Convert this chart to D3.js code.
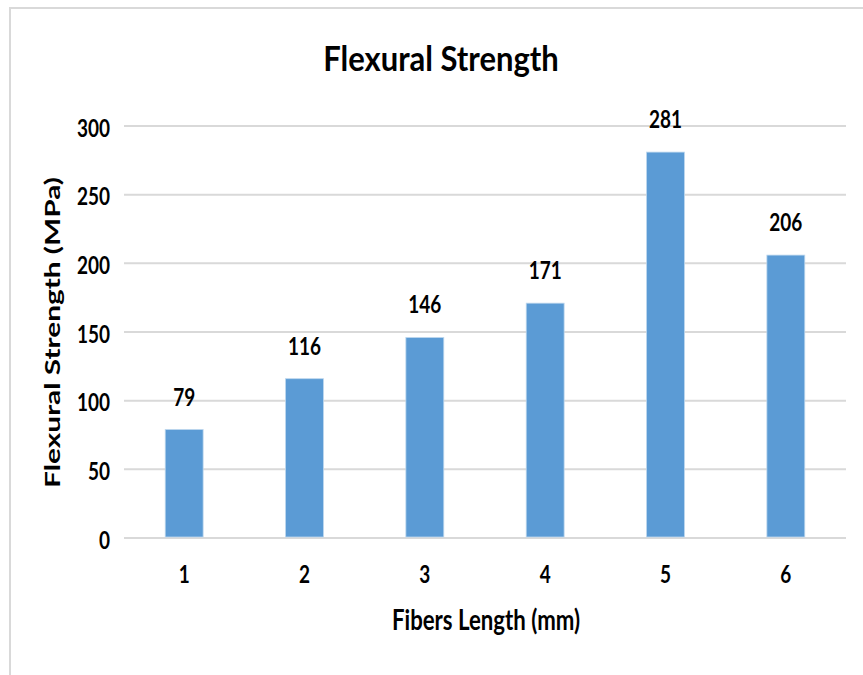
<!DOCTYPE html>
<html><head><meta charset="utf-8">
<script src="https://cdn.jsdelivr.net/npm/d3@7"></script>
<style>body{margin:0;background:#fff}svg{display:block}text{font-family:Lato,"Open Sans",sans-serif;font-weight:bold;fill:#000}</style>
</head><body>
<script>
const categories = ["1","2","3","4","5","6"];
const values = [79,116,146,171,281,206];
const yTicks = [0,50,100,150,200,250,300];
const title = "Flexural Strength";
const xTitle = "Fibers Length (mm)";
const yTitle = "Flexural Strength (MPa)";

const W=863,H=675;
const svg=d3.select("body").append("svg").attr("width",W).attr("height",H);
svg.append("rect").attr("x",10).attr("y",8).attr("width",900).attr("height",700)
  .attr("fill","none").attr("stroke","#d9d9d9").attr("stroke-width",2);

const pL=124,pR=846,pT=126,pB=538;
const x=d3.scaleBand().domain(categories).range([pL,pR]).paddingInner(0.685).paddingOuter(0.3425);
const y=d3.scaleLinear().domain([0,300]).range([pB,pT]);
const K=1.26; // vertical stretch of text, as in the reference

// gridlines
svg.append("g").selectAll("line").data(yTicks).join("line")
  .attr("x1",pL).attr("x2",pR).attr("y1",d=>y(d)).attr("y2",d=>y(d))
  .attr("stroke","#d9d9d9").attr("stroke-width",2);

// y axis labels
const ya=svg.append("g").attr("transform",`translate(${pL},0)`)
  .call(d3.axisLeft(y).tickValues(yTicks).tickSize(0).tickPadding(14));
ya.select(".domain").remove();
ya.selectAll("text").attr("font-size",19).attr("font-family","Lato").attr("font-weight","bold").attr("fill","#000")
  .attr("dy",null).attr("transform",`translate(0,10) scale(1,${K})`);

// x axis labels
const xa=svg.append("g").attr("transform",`translate(0,${pB})`)
  .call(d3.axisBottom(x).tickSize(0));
xa.select(".domain").remove();
xa.selectAll("text").attr("font-size",19).attr("font-family","Lato").attr("font-weight","bold").attr("fill","#000")
  .attr("y",null).attr("dy",null).attr("transform",`translate(0,45) scale(1,${K})`);

// bars
svg.append("g").selectAll("rect").data(values).join("rect")
  .attr("x",(d,i)=>x(categories[i])).attr("width",x.bandwidth())
  .attr("y",d=>y(d)).attr("height",d=>y(0)-y(d)-1)
  .attr("fill","#5b9bd5").attr("stroke","#bdd7ee").attr("stroke-width",0.8);

// value labels
svg.append("g").selectAll("text").data(values).join("text")
  .attr("transform",(d,i)=>`translate(${x(categories[i])+x.bandwidth()/2},${y(d)-24}) scale(1,${K})`)
  .attr("text-anchor","middle").attr("font-size",19).text(d=>d);

svg.append("text").attr("transform","translate(441,71) scale(1,1.12)").attr("text-anchor","middle").attr("font-size",31).text(title);
svg.append("text").attr("transform","translate(486,630) scale(1,1.25)").attr("text-anchor","middle").attr("font-size",22.2).text(xTitle);
svg.append("text").attr("transform","translate(60,332.5) rotate(-90) scale(1,0.7)").attr("text-anchor","middle").attr("font-size",29.8).text(yTitle);
</script>
</body></html>
